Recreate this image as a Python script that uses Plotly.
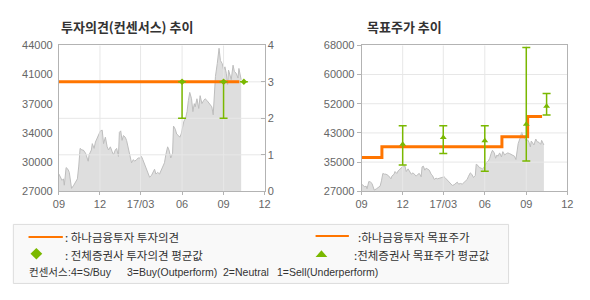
import plotly.graph_objects as go
import pandas as pd

# ---------------- data ----------------
START = pd.Timestamp('2016-09-01')
PRICE_DAY = [0, 4, 7, 10, 12, 16, 20, 23, 25, 28, 33, 38, 41, 44, 47, 51, 54, 59, 65, 67,
             72, 74, 78, 81, 85, 88, 92, 96, 99, 103, 107, 110, 114, 118, 121, 125, 128, 132, 134, 137,
             140, 143, 147, 150, 154, 157, 161, 165, 168, 172, 176, 179, 183, 186, 190, 194, 197, 201, 205, 208,
             212, 215, 219, 223, 226, 230, 234, 237, 241, 244, 248, 252, 254, 258, 261, 265, 268, 271, 273, 277,
             281, 284, 287, 290, 294, 297, 300, 302, 306, 310, 313, 317, 321, 324, 328, 331, 335, 339, 342, 344,
             347, 351, 353, 355, 358, 362, 365, 368, 371, 374, 376, 379, 382, 386, 389, 393, 397, 399, 402, 404]
PRICE = [29010, 28640, 28270, 28450, 27710, 29760, 29570, 29200, 28450, 27340,
         27710, 28080, 28450, 29940, 32000, 31810, 31810, 31440, 30500, 31250,
         31810, 32550, 32000, 32740, 33300, 33670, 34040, 34120, 32550, 33300,
         32180, 31810, 32180, 31620, 31250, 31810, 32000, 31060, 33860, 34040,
         32930, 33490, 33300, 32930, 31810, 31440, 30320, 30690, 30500, 30690,
         30880, 30880, 31060, 30690, 30130, 29570, 29200, 28640, 28830, 29200,
         29570, 29010, 29200, 29010, 29380, 29940, 30320, 31250, 32180, 31810,
         30880, 31440, 34600, 34230, 33670, 33490, 33300, 33670, 34230, 35160,
         35540, 36280, 37590, 38520, 37780, 36280, 37210, 36840, 37780, 36650,
         38140, 37210, 37590, 37780, 37590, 37400, 37210, 36840, 35910, 38520,
         40380, 41870, 42800, 43660, 42240, 41870, 41120, 41500, 40750, 39450,
         41120, 40380, 40010, 41690, 40940, 40750, 40190, 41310, 40380, 40010]

X_RANGE = ['2016-09-01', '2017-12-01']
X_TICKS = ['2016-09-01', '2016-12-01', '2017-03-01', '2017-06-01', '2017-09-01', '2017-12-01']
X_TICKTEXT = ['09', '12', '17/03', '06', '09', '12']

# left chart: investment opinion
OPINION_DATES = ['2016-09-01', '2017-10-06']
OPINION = [3, 3]
CONS_DATES = ['2017-06-01', '2017-09-01', '2017-10-16']
CONS_MEAN = [3, 3, 3]
CONS_HIGH = [3, 3, 3]
CONS_LOW = [2, 2, 3]
Y1_RANGE = [27000, 44000]
Y1_TICKS = [27000, 30400, 33800, 37200, 40600, 44000]
Y1_TICKTEXT = ['27000', '30000', '34000', '37000', '41000', '44000']
OP_RANGE = [0, 4]
OP_TICKS = [0, 1, 2, 3, 4]

# right chart: target price
TP_DATES = ['2016-09-01', '2016-10-16', '2017-07-09', '2017-09-04', '2017-10-06']
TP = [36500, 39500, 42300, 48000, 48000]
TPC_DATES = ['2016-12-01', '2017-03-01', '2017-06-01', '2017-09-01', '2017-10-16']
TPC_MEAN = [40200, 42100, 41200, 45800, 50900]
TPC_HIGH = [45400, 45400, 45400, 67400, 54500]
TPC_LOW = [34400, 37600, 32600, 35500, 48400]
Y2_RANGE = [27000, 68000]
Y2_TICKS = [27000, 35200, 43400, 51600, 59800, 68000]
Y2_TICKTEXT = ['27000', '35000', '43000', '52000', '60000', '68000']

# ---------------- styling ----------------
W, H = 590, 300
ORANGE = '#ff7500'
GREEN = '#7ab800'
GRID = '#e7e7e7'
AXIS = '#b3b3b3'
FILL = '#dedede'
PLINE = '#bdbdbd'
TICKFONT = dict(family='Liberation Sans, Arial, sans-serif', size=11, color='#666666')
KFONT = 'Noto Sans CJK KR'
LFONT = 'Liberation Sans'

def px(x):
    return x / W

def py(y):
    return 1 - y / H

price_dates = [START + pd.Timedelta(days=d) for d in PRICE_DAY]

fig = go.Figure()

def grid_trace(xs_v, yr, xr, ys_h, xaxis, yaxis):
    gx, gy = [], []
    for v in xs_v:
        gx += [v, v, None]
        gy += [yr[0], yr[1], None]
    for v in ys_h:
        gx += [xr[0], xr[1], None]
        gy += [v, v, None]
    return go.Scatter(x=gx, y=gy, mode='lines', line=dict(color=GRID, width=1),
                      hoverinfo='skip', showlegend=False, xaxis=xaxis, yaxis=yaxis)

# ---- left chart ----
fig.add_trace(go.Scatter(x=price_dates, y=PRICE, mode='lines', fill='tozeroy',
                         fillcolor=FILL, line=dict(color=PLINE, width=1),
                         showlegend=False, xaxis='x', yaxis='y'))
fig.add_trace(grid_trace(X_TICKS[1:-1], OP_RANGE, X_RANGE, OP_TICKS[1:-1], 'x', 'y3'))
fig.add_trace(go.Scatter(x=OPINION_DATES, y=OPINION, mode='lines',
                         line=dict(color=ORANGE, width=3), showlegend=False,
                         xaxis='x', yaxis='y3'))
fig.add_trace(go.Scatter(
    x=CONS_DATES, y=CONS_MEAN, mode='markers',
    marker=dict(symbol='diamond', size=5, color=GREEN),
    error_y=dict(type='data', symmetric=False,
                 array=[h - m for h, m in zip(CONS_HIGH, CONS_MEAN)],
                 arrayminus=[m - l for m, l in zip(CONS_MEAN, CONS_LOW)],
                 color=GREEN, thickness=1.5, width=4),
    showlegend=False, xaxis='x', yaxis='y3'))

# ---- right chart ----
fig.add_trace(go.Scatter(x=price_dates, y=PRICE, mode='lines', fill='tozeroy',
                         fillcolor=FILL, line=dict(color=PLINE, width=1),
                         showlegend=False, xaxis='x2', yaxis='y2'))
fig.add_trace(grid_trace(X_TICKS[1:-1], Y2_RANGE, X_RANGE, Y2_TICKS[1:-1], 'x2', 'y2'))
fig.add_trace(go.Scatter(x=TP_DATES, y=TP, mode='lines', line_shape='hv',
                         line=dict(color=ORANGE, width=3), showlegend=False,
                         xaxis='x2', yaxis='y2'))
fig.add_trace(go.Scatter(
    x=TPC_DATES, y=TPC_MEAN, mode='markers',
    marker=dict(symbol='triangle-up', size=6, color=GREEN),
    error_y=dict(type='data', symmetric=False,
                 array=[h - m for h, m in zip(TPC_HIGH, TPC_MEAN)],
                 arrayminus=[m - l for m, l in zip(TPC_MEAN, TPC_LOW)],
                 color=GREEN, thickness=1.5, width=4),
    showlegend=False, xaxis='x2', yaxis='y2'))

ydom = [py(193), py(41)]
xcommon = dict(type='date', range=X_RANGE, tickvals=X_TICKS, ticktext=X_TICKTEXT,
               showgrid=False, zeroline=False, showline=True, linecolor=AXIS, linewidth=1,
               mirror=True, ticks='outside', ticklen=3, tickcolor=AXIS, tickfont=TICKFONT)

fig.update_layout(
    width=W, height=H, margin=dict(l=0, r=0, t=0, b=0),
    paper_bgcolor='white', plot_bgcolor='white',
    xaxis=dict(domain=[px(54), px(264)], anchor='y', **xcommon),
    yaxis=dict(domain=ydom, anchor='x', range=Y1_RANGE, tickvals=Y1_TICKS, ticktext=Y1_TICKTEXT,
               showgrid=False, zeroline=False, showline=True, linecolor=AXIS, ticks='',
               tickfont=TICKFONT, ticklabelstandoff=3),
    yaxis3=dict(overlaying='y', side='right', anchor='x', range=OP_RANGE, tickvals=OP_TICKS,
                showgrid=False, zeroline=False, showline=True, linecolor=AXIS,
                ticks='inside', ticklen=4, tickcolor=AXIS, tickfont=TICKFONT),
    xaxis2=dict(domain=[px(363), px(573)], anchor='y2', **xcommon),
    yaxis2=dict(domain=ydom, anchor='x2', range=Y2_RANGE, tickvals=Y2_TICKS, ticktext=Y2_TICKTEXT,
                showgrid=False, zeroline=False, showline=True, linecolor=AXIS, mirror=True,
                ticks='outside', ticklen=4, tickcolor=AXIS, tickfont=TICKFONT),
)

ann = []
def text(x, y, s, size=11, color='#333333', bold=False, family=KFONT):
    ann.append(dict(x=px(x), y=py(y), xref='paper', yref='paper', text=('<b>%s</b>' % s) if bold else s,
                    showarrow=False, xanchor='left', yanchor='middle',
                    font=dict(family=family, size=size, color=color)))

# titles
text(54, 21, '투자의견(컨센서스) 추이', size=13, bold=True)
text(366, 21, '목표주가 추이', size=13, bold=True)

# legend box
shapes = [dict(type='rect', xref='paper', yref='paper', x0=px(7.5), x1=px(513), y0=py(289), y1=py(227.5),
               fillcolor='#f9f9f9', line=dict(color='#dcdcdc', width=1), layer='below')]
shapes.append(dict(type='line', xref='paper', yref='paper', x0=px(23), x1=px(58), y0=py(240.5), y1=py(240.5),
                   line=dict(color=ORANGE, width=2)))
shapes.append(dict(type='line', xref='paper', yref='paper', x0=px(316), x1=px(350), y0=py(239.5), y1=py(239.5),
                   line=dict(color=ORANGE, width=2)))
cx, cy = 31, 258
shapes.append(dict(type='path', xref='paper', yref='paper',
                   path='M %f %f L %f %f L %f %f L %f %f Z' % (px(cx), py(cy - 6), px(cx + 6), py(cy),
                                                                px(cx), py(cy + 6), px(cx - 6), py(cy)),
                   fillcolor=GREEN, line=dict(width=0)))
tx, ty = 322, 258
shapes.append(dict(type='path', xref='paper', yref='paper',
                   path='M %f %f L %f %f L %f %f Z' % (px(tx - 6), py(ty + 3.5), px(tx + 6), py(ty + 3.5),
                                                        px(tx), py(ty - 3.5)),
                   fillcolor=GREEN, line=dict(width=0)))

text(58, 241, ': 하나금융투자 투자의견', size=11.5)
text(357, 241, ':하나금융투자 목표주가', size=11.5)
text(58, 259, ': 전체증권사 투자의견 평균값', size=11.5)
text(353, 259, ':전체증권사 목표주가 평균값', size=11.5)
text(21, 277, '컨센서스', size=10.5)
text(61.5, 277, ':4=S/Buy', size=10.5, family=LFONT)
text(121, 277, '3=Buy(Outperform)', size=10.5, family=LFONT)
text(219, 277, '2=Neutral', size=10.5, family=LFONT)
text(275, 277, '1=Sell(Underperform)', size=10.5, family=LFONT)

fig.update_layout(annotations=ann, shapes=shapes)
fig.write_html('out.html')
